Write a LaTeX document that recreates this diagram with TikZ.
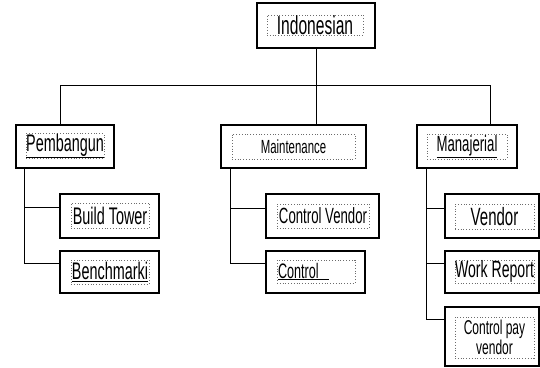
\documentclass[tikz,border=0pt]{standalone}
\usepackage{fontspec}
\setmainfont{Liberation Sans}[FakeStretch=0.6]
\newcommand{\myfs}[1]{\fontsize{#1}{#1}\selectfont}
\tikzset{
  outer/.style={draw=black, line width=1.1pt, fill=white, inner sep=0pt},
  inner/.style={draw=gray!85!black, dotted, line width=0.8pt, inner sep=0pt, align=center},
  conn/.style={draw=black, line width=1pt}
}
\begin{document}
\begin{tikzpicture}[x=1pt,y=-1pt]
\useasboundingbox (0,0) rectangle (540,367);
% outer boxes
\node[outer, minimum width=118pt, minimum height=45pt] (top) at (316,25.5) {};
\node[outer, minimum width=98pt, minimum height=43pt] (pemb) at (65,146.5) {};
\node[outer, minimum width=145pt, minimum height=43pt] (maint) at (293.5,146.5) {};
\node[outer, minimum width=100pt, minimum height=43pt] (manaj) at (467,146.5) {};
\node[outer, minimum width=99pt, minimum height=44pt] (build) at (109.5,216) {};
\node[outer, minimum width=99pt, minimum height=42pt] (bench) at (109.5,272) {};
\node[outer, minimum width=113pt, minimum height=44pt] (cv) at (322.5,216) {};
\node[outer, minimum width=99pt, minimum height=42pt] (ctrl) at (315.5,272) {};
\node[outer, minimum width=94pt, minimum height=44pt] (vendor) at (492,216) {};
\node[outer, minimum width=94pt, minimum height=42pt] (work) at (492,272) {};
\node[outer, minimum width=94pt, minimum height=59pt] (cpv) at (492,336.5) {};
% inner dotted boxes with text
\node[inner, minimum width=96pt, minimum height=20pt] (topt) at (315,25) {\myfs{26}Indonesian};
\node[inner, minimum width=78pt, minimum height=24pt] (pembt) at (65,146) {\myfs{24}\underline{Pembangun}};
\node[inner, minimum width=123pt, minimum height=25pt] (maintt) at (293.5,146.5) {\myfs{19}Maintenance};
\node[inner, minimum width=80pt, minimum height=25pt] (manajt) at (467,146.5) {\myfs{22}\underline{Manajerial}};
\node[inner, minimum width=78pt, minimum height=25pt] (buildt) at (110,215.5) {\myfs{24}Build Tower};
\node[inner, minimum width=78pt, minimum height=24pt] (bencht) at (110,272) {\myfs{24}\underline{Benchmarki}};
\node[inner, minimum width=92pt, minimum height=24pt] (cvt) at (323,216) {\myfs{22}Control Vendor};
\node[inner, minimum width=78pt, minimum height=23pt, text width=76pt, align=left] (ctrlt) at (316,271.5) {\myfs{21}\underline{Control\hspace{10pt}}};
\node[inner, minimum width=79pt, minimum height=25pt] (vendort) at (494.5,216.5) {\myfs{25}Vendor};
\node[inner, minimum width=79pt, minimum height=23pt] (workt) at (494.5,271.5) {\myfs{23.5}Work Report};
\node[inner, minimum width=79pt, minimum height=41pt] (cpvt) at (494.5,337.5) {\myfs{20}Control pay\\[1pt]\myfs{20}vendor};
% tree connectors
\coordinate (hubL) at (60,85);
\coordinate (hubR) at (490,85);
\draw[conn] (top.south) -- (top.south |- hubL);
\draw[conn] (hubL) -- (hubR);
\draw[conn] (hubL) -- (hubL |- pemb.north);
\draw[conn] (top.south |- hubL) -- (top.south |- maint.north);
\draw[conn] (hubR) -- (hubR |- manaj.north);
% children
\draw[conn] ([xshift=9pt]pemb.south west) |- ([yshift=-14pt]build.north west);
\draw[conn] ([xshift=9pt]pemb.south west) |- ([yshift=-13pt]bench.north west);
\draw[conn] ([xshift=10pt]maint.south west) |- ([yshift=-15pt]cv.north west);
\draw[conn] ([xshift=10pt]maint.south west) |- ([yshift=-13pt]ctrl.north west);
\draw[conn] ([xshift=10pt]manaj.south west) |- ([yshift=-15pt]vendor.north west);
\draw[conn] ([xshift=10pt]manaj.south west) |- ([yshift=-13pt]work.north west);
\draw[conn] ([xshift=10pt]manaj.south west) |- ([yshift=-13pt]cpv.north west);
\end{tikzpicture}
\end{document}
